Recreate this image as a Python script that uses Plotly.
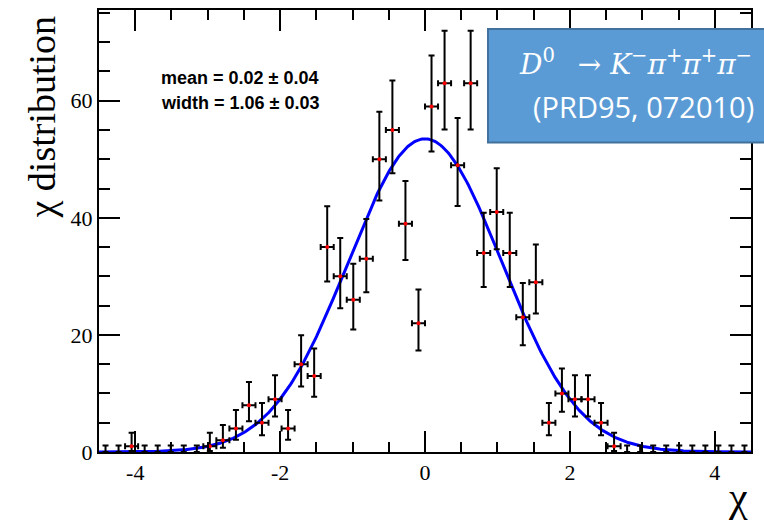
import numpy as np
import plotly.graph_objects as go

# ---- data ----
x_min, x_max, n_bins = -4.5, 4.5, 50
counts = [0, 0, 1, 0, 0, 0, 0, 0, 1, 2,
          4, 8, 5, 9, 4, 15, 13, 35, 30, 26,
          33, 50, 55, 39, 22, 59, 63, 49, 63, 34,
          41, 34, 23, 29, 5, 10, 9, 9, 5, 1,
          0, 0, 0, 0, 0, 0, 0, 0, 0, 0]
fit_amp, fit_mean, fit_sigma = 53.5, 0.0, 1.06
zero_bin_err = 1.1
y_ticks = [0, 20, 40, 60]
x_ticks = [-4, -2, 0, 2, 4]

edges = np.linspace(x_min, x_max, n_bins + 1)
centers = 0.5 * (edges[:-1] + edges[1:])
half_w = 0.5 * (edges[1] - edges[0])
counts = np.array(counts, dtype=float)

def pois_up(n):
    m = n + 1
    return m * (1 - 1 / (9 * m) + 1 / (3 * np.sqrt(m))) ** 3 - n

def pois_lo(n):
    return n - n * (1 - 1 / (9 * n) - 1 / (3 * np.sqrt(n))) ** 3

nz = counts > 0
xn, yn = centers[nz], counts[nz]
up = pois_up(yn)
lo = pois_lo(yn)
xz = centers[~nz]
yz = counts[~nz]

xc = np.linspace(x_min, x_max, 600)
yc = fit_amp * np.exp(-0.5 * ((xc - fit_mean) / fit_sigma) ** 2)

fig = go.Figure()
fig.add_trace(go.Scatter(x=xc, y=yc, mode="lines",
                         line=dict(color="#0000FF", width=3), hoverinfo="skip"))
fig.add_trace(go.Scatter(x=xz, y=yz, mode="markers",
                         marker=dict(size=1, color="rgba(0,0,0,0)"),
                         error_y=dict(type="data", symmetric=False,
                                      array=[zero_bin_err] * len(xz),
                                      arrayminus=[0] * len(xz),
                                      color="black", thickness=2, width=3)))
fig.add_trace(go.Scatter(x=xn, y=yn, mode="markers",
                         marker=dict(size=4, color="#FF0000"),
                         error_y=dict(type="data", symmetric=False, array=up,
                                      arrayminus=lo, color="black", thickness=2, width=3),
                         error_x=dict(type="constant", value=half_w,
                                      color="black", thickness=2, width=3)))

tickfont = dict(family="Liberation Serif", size=22, color="black")
fig.update_xaxes(range=[x_min, x_max], showgrid=False, zeroline=False,
                 showline=True, linecolor="black", linewidth=2, mirror="allticks",
                 ticks="inside", ticklen=21, tickwidth=2, tickcolor="black",
                 tickvals=x_ticks, ticktext=[str(v) if v >= 0 else "-" + str(-v) for v in x_ticks],
                 tickfont=tickfont,
                 minor=dict(dtick=0.5, tick0=0, ticks="inside", ticklen=10,
                            tickwidth=2, tickcolor="black", showgrid=False))
fig.update_yaxes(range=[0, 75.5], showgrid=False, zeroline=False,
                 showline=True, linecolor="black", linewidth=2, mirror="allticks",
                 ticks="inside", ticklen=21, tickwidth=2, tickcolor="black",
                 tickvals=y_ticks, tickfont=tickfont,
                 minor=dict(dtick=5, tick0=0, ticks="inside", ticklen=11,
                            tickwidth=2, tickcolor="black", showgrid=False))

L, R, T, B = 99, 13, 8, 72
W, H = 764, 524
pw, ph = W - L - R, H - T - B

def px(xp):
    return (xp - L) / pw

def py(yp):
    return (H - B - yp) / ph

fig.add_shape(type="rect", xref="paper", yref="paper",
              x0=px(488), x1=px(768), y0=py(141), y1=py(27),
              fillcolor="#5B9BD5", line=dict(color="#41719C", width=2), layer="above")

line1 = ("<i>D</i><sup>0</sup>\u2002 → <i>K</i><sup>−</sup><i>π</i><sup>+</sup>"
         "<i>π</i><sup>+</sup><i>π</i><sup>−</sup>")

ann = []
ann.append(dict(text="χ distribution", x=px(42), y=py(116), textangle=-90,
                font=dict(family="Liberation Serif", size=38, color="black")))
ann.append(dict(text="χ", x=px(738), y=py(497),
                font=dict(family="Liberation Serif", size=42, color="black")))
ann.append(dict(text="<b>mean = 0.02 ± 0.04</b>", x=px(159), y=py(76), xanchor="left",
                font=dict(family="Liberation Sans", size=18, color="black")))
ann.append(dict(text="<b>width = 1.06 ± 0.03</b>", x=px(159), y=py(101), xanchor="left",
                font=dict(family="Liberation Sans", size=18, color="black")))
ann.append(dict(text=line1, x=px(517), y=py(61), xanchor="left",
                font=dict(family="DejaVu Serif", size=28, color="white")))
ann.append(dict(text="(PRD95, 072010)", x=px(531), y=py(105), xanchor="left",
                font=dict(family="Open Sans", size=29, color="white")))
for a in ann:
    a.setdefault("xanchor", "center")
    a.update(xref="paper", yref="paper", yanchor="middle", showarrow=False)
fig.update_layout(annotations=ann)

fig.update_layout(width=W, height=H, margin=dict(l=L, r=R, t=T, b=B),
                  plot_bgcolor="white", paper_bgcolor="white", showlegend=False)

fig.write_html("out.html", config={"displayModeBar": False},
               post_script="document.body.style.margin='0px';document.body.style.overflow='hidden';")
